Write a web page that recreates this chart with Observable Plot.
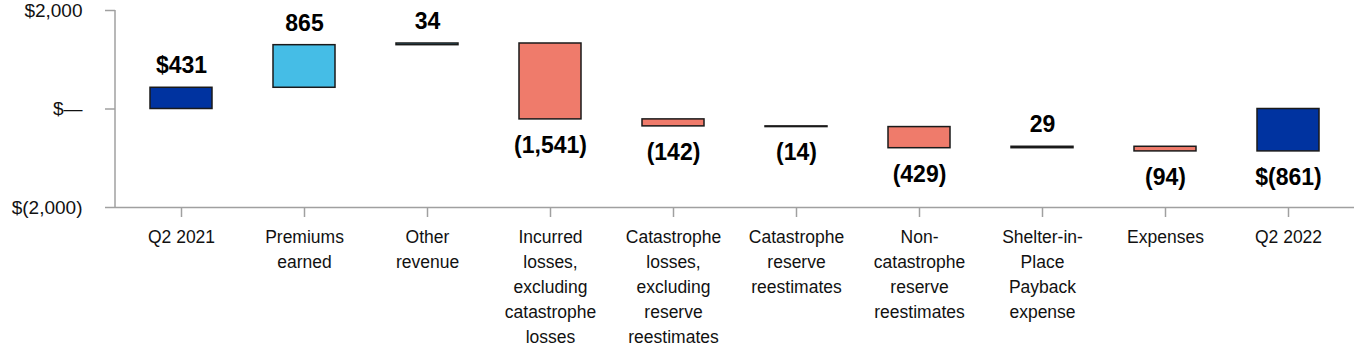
<!DOCTYPE html>
<html>
<head>
<meta charset="utf-8">
<script src="https://cdn.jsdelivr.net/npm/d3@7"></script>
<script src="https://cdn.jsdelivr.net/npm/@observablehq/plot@0.6"></script>
<style>
  html, body { margin: 0; padding: 0; background: #fff; }
  svg { font-family: "Liberation Sans", Arial, sans-serif; }
</style>
</head>
<body>
<div id="chart"></div>
<script>
const categories = [
  "Q2 2021",
  "Premiums\nearned",
  "Other\nrevenue",
  "Incurred\nlosses,\nexcluding\ncatastrophe\nlosses",
  "Catastrophe\nlosses,\nexcluding\nreserve\nreestimates",
  "Catastrophe\nreserve\nreestimates",
  "Non-\ncatastrophe\nreserve\nreestimates",
  "Shelter-in-\nPlace\nPayback\nexpense",
  "Expenses",
  "Q2 2022"
];
const values = [431, 865, 34, -1541, -142, -14, -429, 29, -94, -861];
const kinds = ["total", "step", "step", "step", "step", "step", "step", "step", "step", "total"];
const valueLabels = ["$431", "865", "34", "(1,541)", "(142)", "(14)", "(429)", "29", "(94)", "$(861)"];
const yTicks = [-2000, 0, 2000];
const yTickLabels = ["$(2,000)", "$\u2014", "$2,000"];

const colors = {total: "#0033a0", up: "#45bde6", down: "#ef7b6b"};

let running = 0;
const rows = categories.map((c, i) => {
  let y1, y2;
  if (kinds[i] === "total") { y1 = 0; y2 = values[i]; running = values[i]; }
  else { y1 = running; y2 = running + values[i]; running = y2; }
  const color = kinds[i] === "total" ? colors.total : (values[i] >= 0 ? colors.up : colors.down);
  return {cat: c, y1, y2, top: Math.max(y1, y2), bottom: Math.min(y1, y2), value: values[i], label: valueLabels[i], color};
});

const chart = Plot.plot({
  width: 1364,
  height: 360,
  marginLeft: 115,
  marginRight: 10,
  marginTop: 10,
  marginBottom: 153,
  style: {fontFamily: "'Liberation Sans', Arial, sans-serif", background: "#fff"},
  x: {domain: categories, paddingInner: 0.5, paddingOuter: 0.25},
  y: {domain: [-2000, 2000]},
  marks: [
    Plot.ruleY([-2000], {stroke: "#a0a0a0", strokeWidth: 1.5}),
    Plot.axisY({
      ticks: yTicks,
      tickFormat: (d) => yTickLabels[yTicks.indexOf(d)],
      tickSize: 10,
      tickPadding: 23,
      stroke: "#a0a0a0",
      strokeWidth: 1.5,
      fontSize: 19,
      fill: "#111",
      label: null
    }),
    Plot.axisX({
      tickSize: 10,
      tickPadding: 8,
      stroke: "#a0a0a0",
      strokeWidth: 1.5,
      fontSize: 17.5,
      lineHeight: 1.43,
      fill: "#111",
      label: null
    }),
    Plot.barY(rows, {x: "cat", y1: "y1", y2: "y2", fill: "color", stroke: "#1a1a1a", strokeWidth: 1.5}),
    Plot.text(rows.filter(d => d.value >= 0), {x: "cat", y: "top", text: "label", dy: -22, fontSize: 23, fontWeight: "bold", fill: "#000"}),
    Plot.text(rows.filter(d => d.value < 0), {x: "cat", y: "bottom", text: "label", dy: 26, fontSize: 23, fontWeight: "bold", fill: "#000"})
  ]
});

document.getElementById("chart").appendChild(chart);
const svg = d3.select(chart);
const ys = chart.scale("y");
svg.append("line")
  .attr("x1", 115).attr("x2", 115)
  .attr("y1", ys.apply(2000)).attr("y2", ys.apply(-2000))
  .attr("stroke", "#a0a0a0").attr("stroke-width", 1.5);
</script>
</body>
</html>
